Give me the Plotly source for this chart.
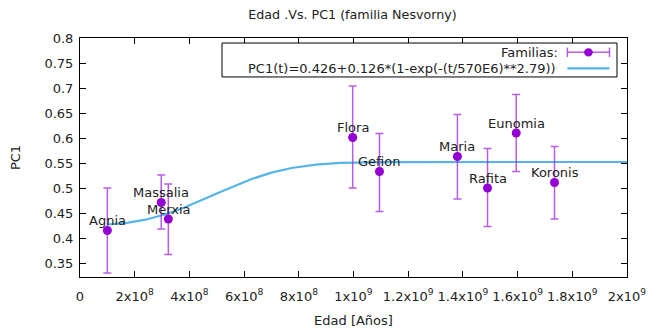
import numpy as np
import plotly.graph_objects as go

# ---- data ----
families = ["Agnia", "Massalia", "Merxia", "Flora", "Gefion", "Maria", "Rafita", "Eunomia", "Koronis"]
ages = [1.0e8, 2.97e8, 3.23e8, 9.97e8, 1.095e9, 1.38e9, 1.49e9, 1.595e9, 1.735e9]
pc1 = [0.415, 0.471, 0.438, 0.601, 0.533, 0.563, 0.500, 0.610, 0.511]
err_plus = [0.085, 0.055, 0.070, 0.103, 0.076, 0.084, 0.079, 0.077, 0.072]
err_minus = [0.085, 0.053, 0.071, 0.101, 0.080, 0.085, 0.077, 0.077, 0.073]

# fit parameters (from legend formula)
fit_a, fit_b, fit_tau, fit_k = 0.426, 0.126, 570e6, 2.79
fit_t = np.linspace(1.0e8, 2.0e9, 300)
fit_y = fit_a + fit_b * (1 - np.exp(-(fit_t / fit_tau) ** fit_k))

x_tickvals = [0, 2e8, 4e8, 6e8, 8e8, 1e9, 1.2e9, 1.4e9, 1.6e9, 1.8e9, 2e9]
x_ticktext = ["0", "2x10<sup>8</sup>", "4x10<sup>8</sup>", "6x10<sup>8</sup>", "8x10<sup>8</sup>",
              "1x10<sup>9</sup>", "1.2x10<sup>9</sup>", "1.4x10<sup>9</sup>", "1.6x10<sup>9</sup>",
              "1.8x10<sup>9</sup>", "2x10<sup>9</sup>"]
y_tickvals = [0.35, 0.4, 0.45, 0.5, 0.55, 0.6, 0.65, 0.7, 0.75, 0.8]
y_ticktext = ["0.35", "0.4", "0.45", "0.5", "0.55", "0.6", "0.65", "0.7", "0.75", "0.8"]

FONT = "DejaVu Sans"
FS = 13
PURPLE = "#9400d3"
BAR = "rgba(160,40,220,0.75)"
BLUE = "#56b4e9"
TXT = "#222222"

fig = go.Figure()
fig.add_trace(go.Scatter(
    x=fit_t, y=fit_y, mode="lines", line=dict(color=BLUE, width=2.2),
    showlegend=False, hoverinfo="skip"))
fig.add_trace(go.Scatter(
    x=ages, y=pc1, mode="markers",
    marker=dict(color=PURPLE, size=9),
    error_y=dict(type="data", symmetric=False, array=err_plus, arrayminus=err_minus,
                 color=BAR, thickness=1.5, width=4),
    showlegend=False))

for name, xv, yv in zip(families, ages, pc1):
    fig.add_annotation(x=xv, y=yv, text=name, showarrow=False, yshift=10,
                       font=dict(family=FONT, size=FS, color=TXT))

# manual gnuplot-style legend (text left, sample right)
fig.add_shape(type="rect", xref="paper", yref="paper", x0=0.2596, x1=0.9817, y0=0.837, y1=0.979,
              line=dict(color="black", width=1), fillcolor="white", layer="above")
yl1, yl2 = 0.94, 0.873
fig.add_annotation(xref="paper", yref="paper", x=0.878, y=yl1, text="Familias:", showarrow=False,
                   xanchor="right", yanchor="middle", font=dict(family=FONT, size=FS, color=TXT))
fig.add_annotation(xref="paper", yref="paper", x=0.874, y=yl2,
                   text="PC1(t)=0.426+0.126*(1-exp(-(t/570E6)**2.79))", showarrow=False,
                   xanchor="right", yanchor="middle", font=dict(family=FONT, size=FS, color=TXT))
# legend samples
fig.add_shape(type="line", xref="paper", yref="paper", x0=0.891, x1=0.968, y0=yl1, y1=yl1,
              line=dict(color=BAR, width=1.5))
for xc in (0.891, 0.968):
    fig.add_shape(type="line", xref="paper", yref="paper", x0=xc, x1=xc, y0=yl1 - 0.02, y1=yl1 + 0.02,
                  line=dict(color=BAR, width=1.5))
fig.add_shape(type="circle", xref="paper", yref="paper", x0=0.9215, x1=0.9375, y0=yl1 - 0.017, y1=yl1 + 0.017,
              line=dict(color=PURPLE, width=0), fillcolor=PURPLE)
fig.add_shape(type="line", xref="paper", yref="paper", x0=0.891, x1=0.968, y0=yl2, y1=yl2,
              line=dict(color=BLUE, width=2.2))

# page has an 8px body margin, so figure is 8px smaller and margins shifted
fig.update_layout(
    width=660, height=321,
    margin=dict(l=72, r=41, t=30, b=52, autoexpand=False),
    paper_bgcolor="white", plot_bgcolor="white",
    font=dict(family=FONT, size=FS, color=TXT),
    title=dict(text="Edad .Vs. PC1 (familia Nesvorny)", x=0.522, xanchor="center",
               y=0.981, yanchor="middle", font=dict(family=FONT, size=12.7)),
    showlegend=False,
)
fig.update_xaxes(
    range=[0, 2e9], tickvals=x_tickvals, ticktext=x_ticktext, automargin=False,
    showgrid=False, zeroline=False, showline=True, linecolor="black", linewidth=1, mirror="ticks",
    ticks="inside", ticklen=6, tickcolor="black", ticklabelstandoff=7,
    title=dict(text="Edad [Años]", font=dict(family=FONT, size=FS), standoff=13),
    tickfont=dict(family=FONT, size=FS))
fig.update_yaxes(
    range=[0.322, 0.8], tickvals=y_tickvals, ticktext=y_ticktext, automargin=False,
    showgrid=False, zeroline=False, showline=True, linecolor="black", linewidth=1, mirror="ticks",
    ticks="inside", ticklen=6, tickcolor="black", ticklabelstandoff=3,
    title=dict(text="PC1", font=dict(family=FONT, size=FS), standoff=24),
    tickfont=dict(family=FONT, size=FS))

fig.write_html("out.html")
